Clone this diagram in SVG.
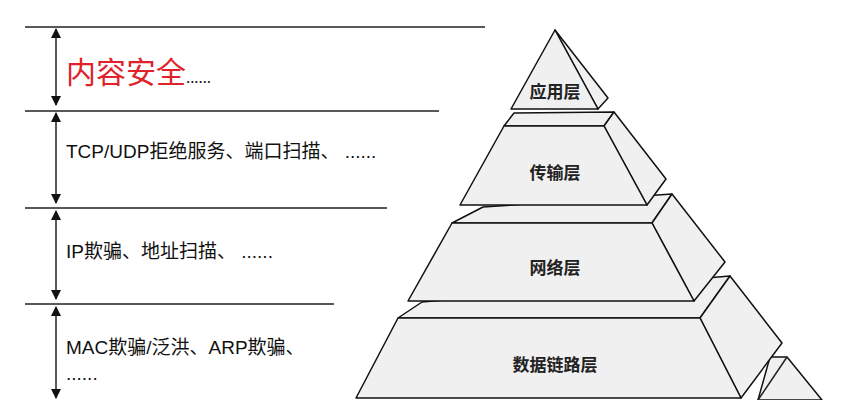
<svg xmlns="http://www.w3.org/2000/svg" width="853" height="400" viewBox="0 0 853 400">
<style>
.ln{stroke:#222;stroke-width:1.5;fill:none}
.f{fill:#f0f0f0;stroke:#111;stroke-width:1.5;stroke-linejoin:round}
.t{font-family:"Liberation Sans","Noto Sans CJK SC",sans-serif;font-size:19px;fill:#111}
.lb{font-family:"Noto Sans CJK SC",sans-serif;font-size:17px;font-weight:bold;fill:#222;text-anchor:middle}
</style>
<defs><marker id="a" viewBox="0 0 10 10" refX="9" refY="5" markerWidth="7" markerHeight="7" orient="auto-start-reverse"><path d="M0,0L10,5L0,10z" fill="#111"/></marker></defs>
<rect width="853" height="400" fill="#fff"/>
<g id="connectors">
<line class="ln" x1="25" y1="27" x2="485" y2="27"/>
<line class="ln" x1="25" y1="111" x2="439" y2="111"/>
<line class="ln" x1="25" y1="208" x2="387" y2="208"/>
<line class="ln" x1="25" y1="304" x2="334" y2="304"/>
<line class="ln" x1="56" y1="29" x2="56" y2="105" marker-start="url(#a)" marker-end="url(#a)"/>
<line class="ln" x1="56" y1="113" x2="56" y2="203" marker-start="url(#a)" marker-end="url(#a)"/>
<line class="ln" x1="56" y1="211" x2="56" y2="299" marker-start="url(#a)" marker-end="url(#a)"/>
<line class="ln" x1="56" y1="307" x2="56" y2="398" marker-start="url(#a)" marker-end="url(#a)"/>
</g>
<g id="labels">
<text x="66" y="83" font-family="'Noto Sans CJK SC',sans-serif" font-size="30" fill="#e0222a">内容安全<tspan font-size="15" fill="#111">......</tspan></text>
<text class="t" x="66" y="158">TCP/UDP拒绝服务、端口扫描、 ......</text>
<text class="t" x="66" y="258">IP欺骗、地址扫描、 ......</text>
<text class="t" x="66" y="354">MAC欺骗/泛洪、ARP欺骗、</text>
<text class="t" x="66" y="380">......</text>
</g>
<g id="layer5">
<polygon class="f" points="758,400 770,357 787,357 822,400"/>
<polyline class="ln" points="787,357 758,400"/>
</g>
<g id="datalink">
<polygon class="f" points="398,318 422,302 730,276 700,318"/>
<polygon class="f" points="700,318 730,276 782,343 741,398"/>
<polygon class="f" points="398,318 700,318 741,398 356,398"/>
<text class="lb" x="555" y="371">数据链路层</text>
</g>
<g id="network">
<polygon class="f" points="452,223 483,207 672,194 652,223"/>
<polygon class="f" points="652,223 672,194 725,262 694,301"/>
<polygon class="f" points="452,223 652,223 694,301 408,301"/>
<text class="lb" x="555" y="274">网络层</text>
</g>
<g id="transport">
<polygon class="f" points="504,126 514,113 614,112 604,126"/>
<polygon class="f" points="604,126 614,112 666,179 647,205"/>
<polygon class="f" points="504,126 604,126 647,205 460,205"/>
<text class="lb" x="555" y="179">传输层</text>
</g>
<g id="application">
<polygon class="f" points="555,30 608,98 598,109"/>
<polygon class="f" points="555,30 598,109 511,109"/>
<text class="lb" x="555" y="98">应用层</text>
</g>
</svg>
